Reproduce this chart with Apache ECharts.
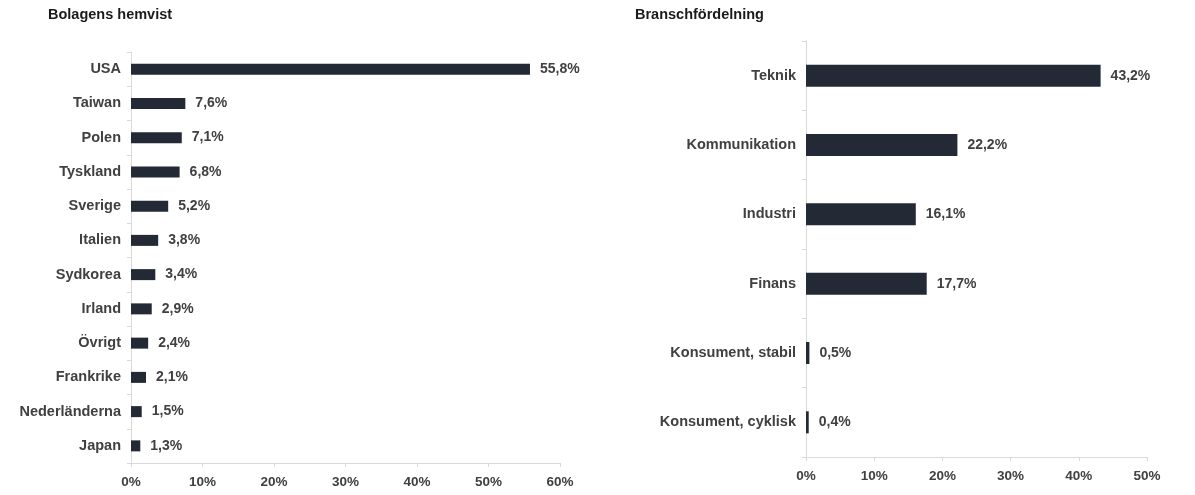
<!DOCTYPE html>
<html>
<head>
<meta charset="utf-8">
<script src="https://cdn.jsdelivr.net/npm/echarts@6/dist/echarts.min.js"></script>
<style>
html,body{margin:0;padding:0;background:#fff;}
#chart{width:1195px;height:495px;}
</style>
</head>
<body>
<div id="chart"></div>
<script>
const countryCategories = ['USA','Taiwan','Polen','Tyskland','Sverige','Italien','Sydkorea','Irland','Övrigt','Frankrike','Nederländerna','Japan'];
const countryValues = [55.8, 7.6, 7.1, 6.8, 5.2, 3.8, 3.4, 2.9, 2.4, 2.1, 1.5, 1.3];
const sectorCategories = ['Teknik','Kommunikation','Industri','Finans','Konsument, stabil','Konsument, cyklisk'];
const sectorValues = [43.2, 22.2, 16.1, 17.7, 0.5, 0.4];
const leftTitle = 'Bolagens hemvist';
const rightTitle = 'Branschfördelning';

const FONT = 'Liberation Sans, Arial, sans-serif';
const TXT = '#404040';
const BAR = '#232a36';
const AX = '#d9d9d9';
const fmtPct = v => v.toFixed(1).replace('.', ',') + '%';

const chart = echarts.init(document.getElementById('chart'));
function xAx(grid, max){
  return {
    type:'value', gridIndex:grid, min:0, max:max, interval:10,
    axisLine:{show:true, lineStyle:{color:AX}},
    axisTick:{show:true, length:4, lineStyle:{color:AX}},
    splitLine:{show:false},
    axisLabel:{formatter:v=>v+'%', color:TXT, fontFamily:FONT, fontWeight:'bold', fontSize:13.5, margin:12}
  };
}
function yAx(grid, cats){
  return {
    type:'category', gridIndex:grid, data:cats, inverse:true,
    axisLine:{show:true, lineStyle:{color:AX}},
    axisTick:{show:true, length:4, lineStyle:{color:AX}},
    axisLabel:{color:TXT, fontFamily:FONT, fontWeight:'bold', fontSize:14.5, margin:10}
  };
}
function ser(idx, vals, w){
  return {
    type:'bar', xAxisIndex:idx, yAxisIndex:idx, data:vals, barWidth:w,
    itemStyle:{color:BAR},
    label:{show:true, position:'right', distance:10, formatter:p=>fmtPct(p.value),
      color:TXT, fontFamily:FONT, fontWeight:'bold', fontSize:14},
    silent:true, animation:false
  };
}
chart.setOption({
  animation:false,
  title:[
    {text:leftTitle, left:43, top:2, textStyle:{fontFamily:FONT, fontWeight:'bold', fontSize:14.5, color:'#1a1a1a'}},
    {text:rightTitle, left:630, top:2, textStyle:{fontFamily:FONT, fontWeight:'bold', fontSize:14.5, color:'#1a1a1a'}}
  ],
  grid:[
    {left:131, right:635, top:52, bottom:32},
    {left:806, right:48, top:41, bottom:38}
  ],
  xAxis:[xAx(0,60), xAx(1,50)],
  yAxis:[yAx(0,countryCategories), yAx(1,sectorCategories)],
  series:[ser(0,countryValues,11), ser(1,sectorValues,22)]
});
</script>
</body>
</html>
